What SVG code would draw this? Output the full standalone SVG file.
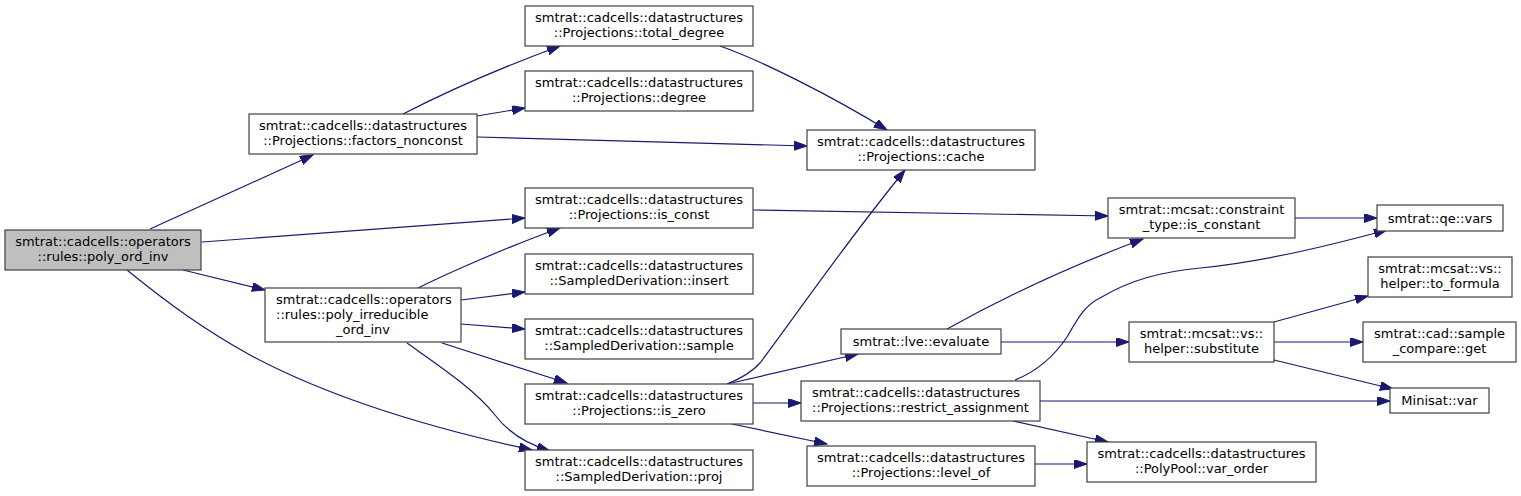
<svg xmlns="http://www.w3.org/2000/svg" width="1521" height="496" viewBox="0 0 1521 496">
<style>
rect{fill:#fff;stroke:#404040;stroke-width:1.2}
.main rect{fill:#bfbfbf}
text{font-family:"DejaVu Sans",sans-serif;font-size:13px;fill:#000;text-anchor:middle}
.l{text-anchor:start}
#edges path{fill:none;stroke:#191970;stroke-width:1.2;marker-end:url(#ah)}
</style>
<defs>
<marker id="ah" markerUnits="userSpaceOnUse" markerWidth="14" markerHeight="10" refX="13" refY="4.5" orient="auto" viewBox="0 0 14 10">
<path d="M0,0 L13,4.5 L0,9 z" fill="#191970" stroke="#191970" stroke-width="1"/>
</marker>
</defs>
<rect x="0" y="0" width="1521" height="496" style="fill:#fff;stroke:none"/>
<g id="edges">
<path d="M150,229 L313,155"/>
<path d="M202,242 L525,218"/>
<path d="M183,270 L265,290"/>
<path d="M127,270 C170,305 205,330 250,355 C330,398 430,428 532,450"/>
<path d="M418,288 C450,272 510,246 560,228"/>
<path d="M461,300 L525,292"/>
<path d="M461,324 L525,329"/>
<path d="M442,343 L567,383"/>
<path d="M407,343 C445,370 475,390 495,415 C510,435 530,445 550,451"/>
<path d="M403,114 C440,95 500,68 560,46"/>
<path d="M477,116 L525,108"/>
<path d="M477,137 L807,146"/>
<path d="M720,46 C760,60 830,95 887,130"/>
<path d="M753,210 L1108,216"/>
<path d="M727,384 C742,378 753,371 760,363 C800,310 840,250 905,170"/>
<path d="M727,384 L858,354"/>
<path d="M753,403 L801,403"/>
<path d="M732,424 L827,444"/>
<path d="M947,329 C990,305 1060,270 1143,239"/>
<path d="M1001,342 L1129,342"/>
<path d="M1015,380 C1040,370 1055,355 1067,337 C1078,318 1085,305 1100,298 C1130,280 1160,272 1200,268 C1260,262 1320,248 1387,230"/>
<path d="M1295,218 L1377,218"/>
<path d="M1274,322 L1368,296"/>
<path d="M1274,342 L1363,342"/>
<path d="M1274,360 L1393,389"/>
<path d="M1040,401 L1390,401"/>
<path d="M1013,421 L1108,442"/>
<path d="M1035,464 L1087,464"/>
</g>
<g id="poly_ord_inv" class="main"><rect x="5" y="230" width="196" height="40"/><text x="103" y="245.5">smtrat::cadcells::operators</text><text x="103" y="260.5">::rules::poly_ord_inv</text></g>
<g id="factors_nonconst"><rect x="249" y="114" width="228" height="40"/><text x="363" y="129.5">smtrat::cadcells::datastructures</text><text x="363" y="144.5">::Projections::factors_nonconst</text></g>
<g id="poly_irreducible_ord_inv"><rect x="265" y="288" width="196" height="54"/><text class="l" x="276" y="304">smtrat::cadcells::operators</text><text class="l" x="276" y="319">::rules::poly_irreducible</text><text x="363" y="334">_ord_inv</text></g>
<g id="total_degree"><rect x="525" y="6" width="228" height="40"/><text x="639" y="21.5">smtrat::cadcells::datastructures</text><text x="639" y="36.5">::Projections::total_degree</text></g>
<g id="degree"><rect x="525" y="71" width="228" height="40"/><text x="639" y="86.5">smtrat::cadcells::datastructures</text><text x="639" y="101.5">::Projections::degree</text></g>
<g id="cache"><rect x="807" y="130" width="228" height="40"/><text x="921" y="145.5">smtrat::cadcells::datastructures</text><text x="921" y="160.5">::Projections::cache</text></g>
<g id="is_const"><rect x="525" y="188" width="228" height="40"/><text x="639" y="203.5">smtrat::cadcells::datastructures</text><text x="639" y="218.5">::Projections::is_const</text></g>
<g id="insert"><rect x="525" y="254" width="228" height="40"/><text x="639" y="269.5">smtrat::cadcells::datastructures</text><text x="639" y="284.5">::SampledDerivation::insert</text></g>
<g id="sample"><rect x="525" y="319" width="228" height="40"/><text x="639" y="334.5">smtrat::cadcells::datastructures</text><text x="639" y="349.5">::SampledDerivation::sample</text></g>
<g id="is_zero"><rect x="525" y="384" width="228" height="40"/><text x="639" y="399.5">smtrat::cadcells::datastructures</text><text x="639" y="414.5">::Projections::is_zero</text></g>
<g id="proj"><rect x="525" y="450" width="228" height="40"/><text x="639" y="465.5">smtrat::cadcells::datastructures</text><text x="639" y="480.5">::SampledDerivation::proj</text></g>
<g id="evaluate"><rect x="841" y="329" width="160" height="25"/><text x="921" y="345.5">smtrat::lve::evaluate</text></g>
<g id="restrict_assignment"><rect x="801" y="381" width="239" height="40"/><text class="l" x="812" y="396.5">smtrat::cadcells::datastructures</text><text class="l" x="812" y="411.5">::Projections::restrict_assignment</text></g>
<g id="level_of"><rect x="807" y="446" width="228" height="40"/><text x="921" y="461.5">smtrat::cadcells::datastructures</text><text x="921" y="476.5">::Projections::level_of</text></g>
<g id="is_constant"><rect x="1108" y="198" width="187" height="40"/><text x="1201.5" y="213.5">smtrat::mcsat::constraint</text><text x="1201.5" y="228.5">_type::is_constant</text></g>
<g id="vars"><rect x="1377" y="205" width="126" height="26"/><text x="1440" y="222.5">smtrat::qe::vars</text></g>
<g id="to_formula"><rect x="1368" y="257" width="144" height="40"/><text x="1440" y="272.5">smtrat::mcsat::vs::</text><text x="1440" y="287.5">helper::to_formula</text></g>
<g id="substitute"><rect x="1129" y="322" width="145" height="40"/><text x="1201.5" y="337.5">smtrat::mcsat::vs::</text><text x="1201.5" y="352.5">helper::substitute</text></g>
<g id="sample_compare_get"><rect x="1363" y="322" width="153" height="40"/><text x="1439.5" y="337.5">smtrat::cad::sample</text><text x="1439.5" y="352.5">_compare::get</text></g>
<g id="minisat_var"><rect x="1390" y="388" width="99" height="25"/><text x="1439.5" y="404.5">Minisat::var</text></g>
<g id="var_order"><rect x="1087" y="442" width="229" height="40"/><text x="1201.5" y="457.5">smtrat::cadcells::datastructures</text><text x="1201.5" y="472.5">::PolyPool::var_order</text></g>
</svg>
